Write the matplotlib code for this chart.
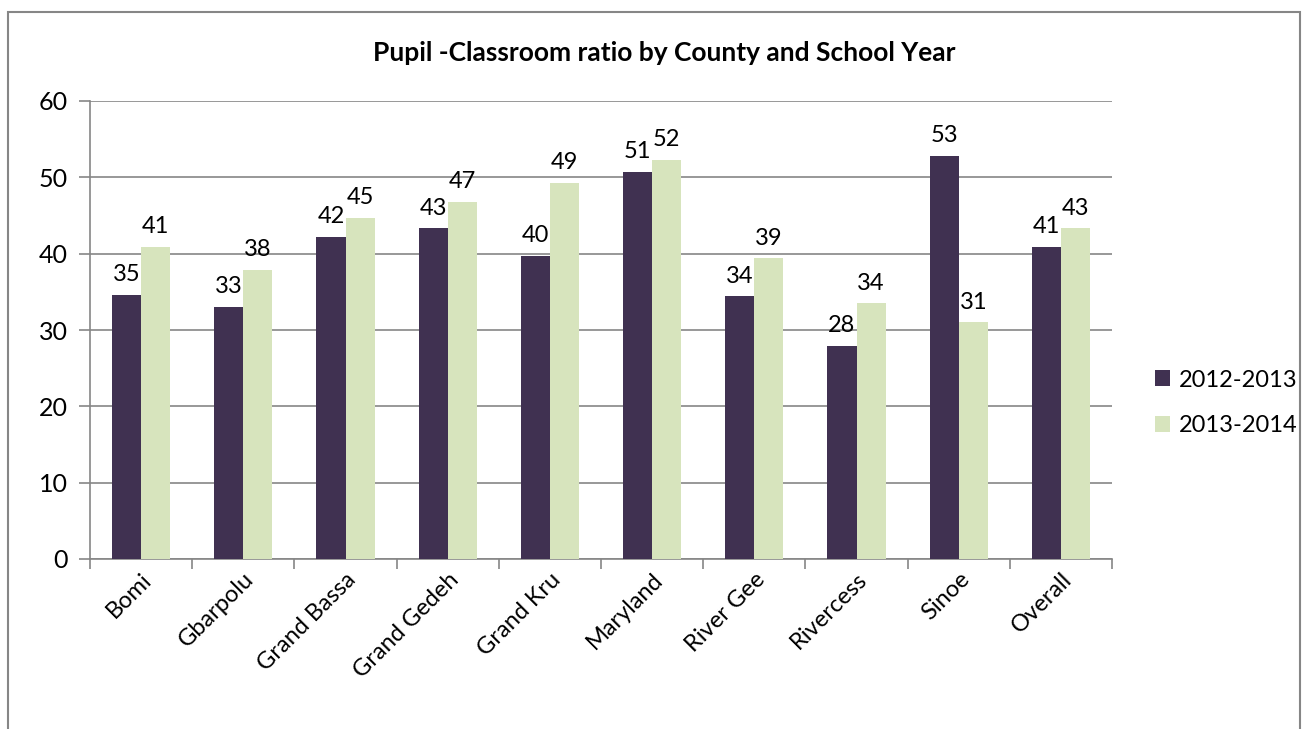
"""Pupil-classroom ratio by county, grouped bar chart."""

import matplotlib
matplotlib.use("Agg")
import matplotlib.pyplot as plt
import numpy as np
from matplotlib.patches import Rectangle

counties = ["Bomi", "Gbarpolu", "Grand Bassa", "Grand Gedeh", "Grand Kru",
            "Maryland", "River Gee", "Rivercess", "Sinoe", "Overall"]
ratio_2012 = [34.6, 33.0, 42.2, 43.3, 39.7, 50.7, 34.4, 27.9, 52.8, 40.9]
ratio_2013 = [40.9, 37.9, 44.7, 46.8, 49.3, 52.3, 39.4, 33.5, 31.0, 43.3]
series_names = ["2012-2013", "2013-2014"]

dark = "#403151"
light = "#D7E4BD"
grey = "#868686"

plt.rcParams["font.family"] = ["Lato", "DejaVu Sans"]

W, H = 1303, 729
fig = plt.figure(figsize=(W / 100, H / 100), dpi=100)

# outer chart border (cropped at the bottom in the original)
fig.add_artist(Rectangle((8 / W, -0.05), (1300 - 8) / W, 1.05 - 12 / H,
                         transform=fig.transFigure, fill=False,
                         edgecolor=grey, linewidth=1.5))

ax = fig.add_axes([90 / W, 1 - 559 / H, (1112 - 90) / W, (559 - 101) / H])

x = np.arange(len(counties))
bw = 0.285
b1 = ax.bar(x - bw / 2, ratio_2012, bw, color=dark, label=series_names[0], zorder=3)
b2 = ax.bar(x + bw / 2, ratio_2013, bw, color=light, label=series_names[1], zorder=3)

for bars in (b1, b2):
    for rect in bars:
        h = rect.get_height()
        ax.annotate(f"{h:.0f}", (rect.get_x() + rect.get_width() / 2, h),
                    xytext=(0, 7), textcoords="offset points",
                    ha="center", va="bottom", fontsize=17)

ax.set_xlim(-0.5, len(counties) - 0.5)
ax.set_ylim(0, 60)
ax.set_yticks(range(0, 61, 10))
ax.yaxis.grid(True, color=grey, linewidth=1.2, zorder=0)
ax.set_axisbelow(True)

ax.set_xticks(np.arange(-0.5, len(counties), 1.0))
ax.set_xticklabels([])
ax.set_xticks(x, minor=True)
ax.set_xticklabels(counties, minor=True, rotation=45, ha="right", va="top",
                   rotation_mode="anchor", fontsize=17)
ax.tick_params(axis="x", which="minor", length=0, pad=7)
ax.tick_params(axis="x", which="major", length=7, color=grey, width=1.2)
ax.tick_params(axis="y", length=8, color=grey, width=1.2, labelsize=18, pad=8)

for side in ("top", "right"):
    ax.spines[side].set_visible(False)
for side in ("left", "bottom"):
    ax.spines[side].set_color(grey)
    ax.spines[side].set_linewidth(1.2)

fig.text(664 / W, 1 - 53 / H, "Pupil -Classroom ratio by County and School Year",
         ha="center", va="center", fontsize=19, fontweight="bold")

ax.legend(loc="center left", bbox_to_anchor=(1155 / W, 1 - 403 / H),
          bbox_transform=fig.transFigure, frameon=False, fontsize=17,
          borderpad=0, borderaxespad=0,
          handlelength=0.65, handleheight=0.65, labelspacing=1.05,
          handletextpad=0.35)

fig.savefig("out.png", dpi=100)
